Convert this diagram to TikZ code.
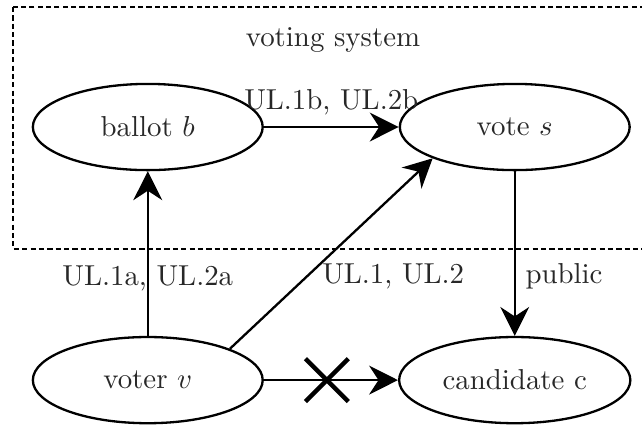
\documentclass[tikz,border=0pt]{standalone}
\usepackage{amsmath}
\usepackage{amssymb}
\usepackage{xcolor}
\usepackage{tikz}
\usetikzlibrary{positioning, calc, arrows.meta, shapes.geometric, shapes.misc}
\definecolor{labelgray}{RGB}{40, 40, 40}

\begin{document}
\begin{tikzpicture}[
        entity/.style={draw=black, thick, ellipse, minimum width=2.8cm, minimum height=1.05cm, text=labelgray},
        flow/.style={draw=black, thick, -{Stealth[length=10pt, width=10pt]}},
        lbl/.style={text=labelgray}
    ]
        \useasboundingbox (0,0) rectangle (7.82,-5.19);
        % system boundary
        \draw[thick, dash pattern=on 1.8pt off 1.1pt] (0.158,-0.085) rectangle (8.3,-3.03);
        \node[lbl] (systitle) at (4.056,-0.487) {voting system};

        \node[entity] (ballot) at (1.80,-1.547) {ballot $b$};
        \node[entity] (vote) at (6.27,-1.547) {vote $s$};
        \node[entity] (voter) at (1.80,-4.63) {voter $v$};
        \node[entity] (cand) at (6.27,-4.63) {candidate c};

        \draw[flow] (ballot.east) -- node[lbl, above=0.02cm] (lblb) {UL.1b, UL.2b} (vote.west);
        \draw[flow] (voter.north) -- node[lbl, pos=0.35] (lbla) {UL.1a, UL.2a} (ballot.south);
        \draw[flow] (voter.north east) -- node[lbl, pos=0.45, anchor=north west, inner sep=0pt] (lblmain) {UL.1, UL.2} (vote.south west);
        \draw[flow] (vote.south) -- node[lbl, pos=0.64, right] (lblpub) {public} (cand.north);
        \draw[flow] (voter.east) -- node[cross out, draw=black, line width=1.5pt, minimum size=0.47cm, inner sep=0pt, pos=0.47] (nolink) {} (cand.west);
\end{tikzpicture}
\end{document}
